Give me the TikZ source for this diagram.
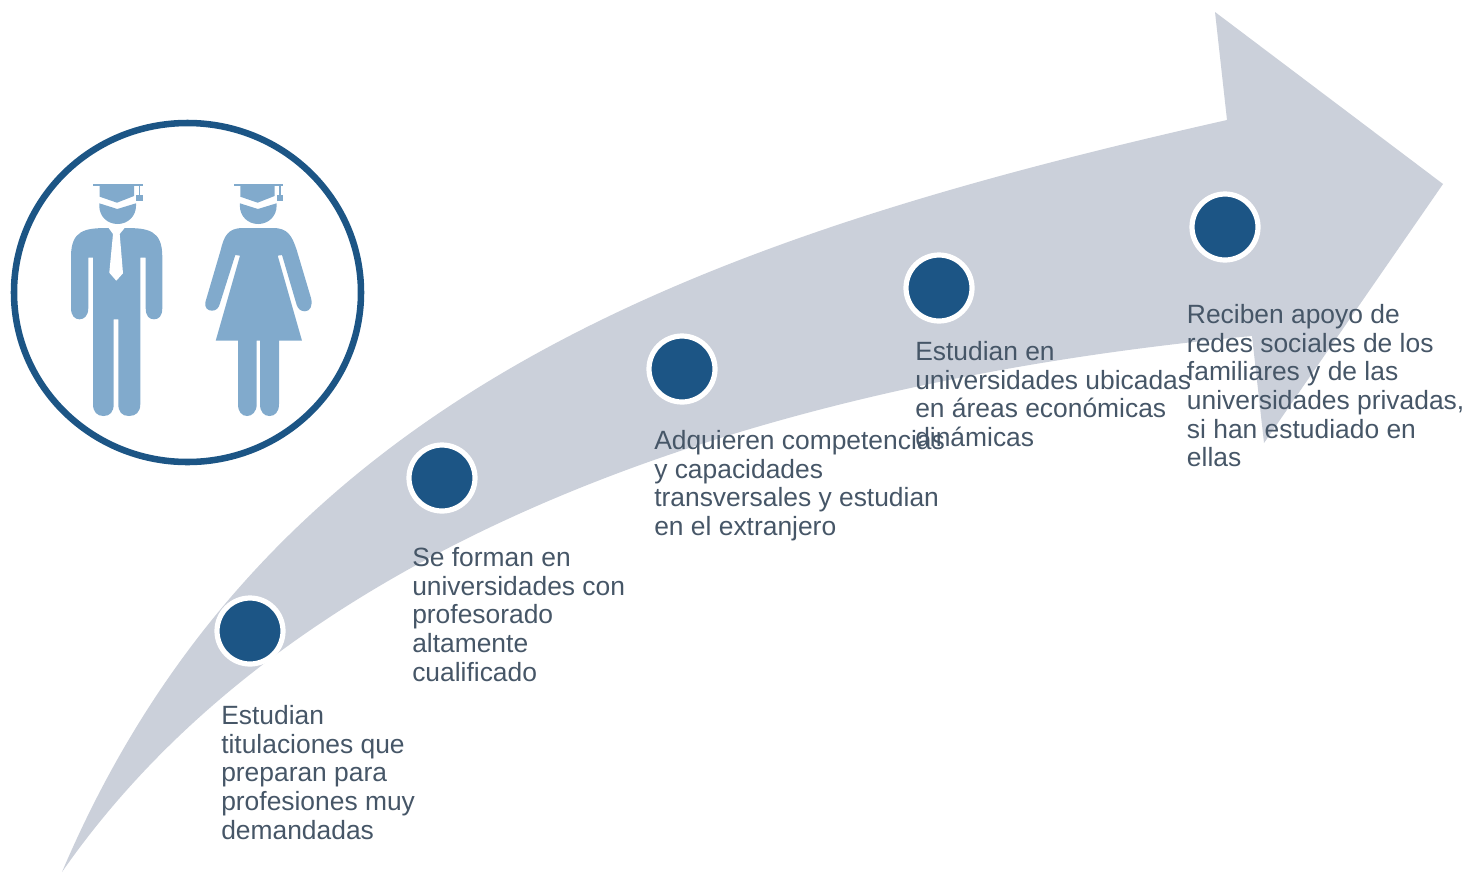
\documentclass[tikz,border=0pt]{standalone}
\usepackage{fontspec}
\setmainfont{Liberation Sans}
\definecolor{bandgray}{HTML}{CBD0DA}
\definecolor{dotblue}{HTML}{1C5585}
\definecolor{iconblue}{HTML}{81AACC}
\definecolor{textgray}{HTML}{465667}
\tikzset{
  stepdot/.style={circle, draw=white, fill=dotblue, line width=3.9pt, minimum size=49.5pt, inner sep=0pt},
  steptext/.style={anchor=north west, align=left, inner sep=0pt, text=textgray,
    font=\fontsize{19.8}{21.5}\selectfont},
  icon/.style={fill=iconblue, draw=none}
}
\newcommand{\gradhead}[1]{%
  \fill[icon] (#1 + 93, 184) rectangle (#1 + 142.7, 186);
  \fill[icon] (#1 + 99.7, 186) -- (#1 + 134, 186) -- (#1 + 134, 196) -- (#1 + 117, 202.7) -- (#1 + 99.7, 196.7) -- cycle;
  \fill[icon] (#1 + 138.5, 186) rectangle (#1 + 140.3, 195);
  \fill[icon] (#1 + 136, 194.7) rectangle (#1 + 142.7, 200.7);
  \fill[icon] (#1 + 99.3, 203.3) -- (#1 + 117.3, 209) -- (#1 + 136, 203.3) -- (#1 + 136, 206)
    .. controls (#1 + 136, 216) and (#1 + 128, 224) .. (#1 + 117.6, 224)
    .. controls (#1 + 107, 224) and (#1 + 99.3, 216) .. (#1 + 99.3, 206) -- cycle;
}
\begin{document}
\begin{tikzpicture}[x=0.75pt, y=-0.75pt]
  \useasboundingbox (0, 0) rectangle (1466, 872);
  % arrow
  \fill[bandgray] (62, 872) .. controls (265, 395) and (695, 240) .. (1227, 120)
    -- (1215, 12) -- (1443, 184) -- (1264, 443) -- (1252, 336)
    .. controls (780, 380) and (300, 530) .. (62, 872) -- cycle;
  % badge
  \draw[dotblue, line width=4.9pt] (187.5, 292.5) circle [x radius=173.5, y radius=169.5];
  \gradhead{0}
  \gradhead{140.6}
  % man
  \fill[icon] (108.3, 228) .. controls (85, 228) and (71, 230) .. (71, 256.7)
    -- (71, 308) .. controls (71, 316) and (75, 319.3) .. (79.5, 319.3)
    .. controls (84, 319.3) and (88.3, 316) .. (88.3, 308) -- (88.3, 257.7) -- (93, 257.7)
    -- (93, 404) .. controls (93, 412) and (97, 416) .. (103.5, 416)
    .. controls (110, 416) and (113.7, 412) .. (113.7, 404) -- (113.7, 319.3) -- (118.3, 319.3)
    -- (118.3, 404) .. controls (118.3, 412) and (122, 416) .. (129, 416)
    .. controls (136, 416) and (140.3, 412) .. (140.3, 404) -- (140.3, 257.7) -- (145.7, 257.7)
    -- (145.7, 308) .. controls (145.7, 316) and (149, 319.3) .. (154, 319.3)
    .. controls (159, 319.3) and (162.3, 316) .. (162.3, 308) -- (162.3, 256.7)
    .. controls (162.3, 230) and (148, 228) .. (125, 228) -- cycle;
  \fill[white] (108.3, 227.5) -- (113, 234) -- (109.3, 272.7) -- (116.3, 280.7) -- (123, 273.3)
    -- (119.7, 234) -- (125, 227.5) -- cycle;
  % woman
  \fill[icon] (243, 228) .. controls (228, 228) and (224, 236) .. (220.7, 250)
    -- (205.5, 301.7) .. controls (204, 308) and (208, 310.7) .. (212, 310.7)
    .. controls (216, 310.7) and (219, 308) .. (220, 303.3)
    -- (235.3, 255) -- (240, 255.7) -- (215.7, 340.7) -- (238, 340.7)
    -- (238, 404) .. controls (238, 412) and (242, 416) .. (247, 416)
    .. controls (252, 416) and (256.7, 412) .. (256.7, 404) -- (256.7, 340.7) -- (260, 340.7)
    -- (260, 404) .. controls (260, 412) and (264, 416) .. (269.5, 416)
    .. controls (275, 416) and (279, 412) .. (279, 404) -- (279, 340.7) -- (302, 340.7)
    -- (277.7, 255.7) -- (282, 255) -- (296.7, 305)
    .. controls (298, 309) and (301, 311.3) .. (305, 311.3)
    .. controls (310, 311.3) and (313, 306) .. (311, 298)
    -- (296.7, 250) .. controls (292, 236) and (288, 228) .. (273, 228) -- cycle;
  % steps
  \node[stepdot] (dotA) at (250, 631) {};
  \node[stepdot] (dotB) at (442, 478) {};
  \node[stepdot] (dotC) at (682, 369) {};
  \node[stepdot] (dotD) at (939, 288) {};
  \node[stepdot] (dotE) at (1225, 227) {};
  \node[steptext] (textA) at (221, 705) {Estudian\\titulaciones que\\preparan para\\profesiones muy\\demandadas};
  \node[steptext] (textB) at (412, 547) {Se forman en\\universidades con\\profesorado\\altamente\\cualificado};
  \node[steptext] (textC) at (654, 430) {Adquieren competencias\\y capacidades\\transversales y estudian\\en el extranjero};
  \node[steptext] (textD) at (915, 341) {Estudian en\\universidades ubicadas\\en áreas económicas\\dinámicas};
  \node[steptext] (textE) at (1186.7, 304) {Reciben apoyo de\\redes sociales de los\\familiares y de las\\universidades privadas,\\si han estudiado en\\ellas};
\end{tikzpicture}
\end{document}
